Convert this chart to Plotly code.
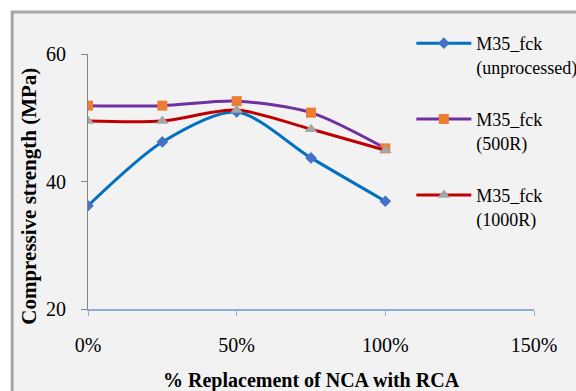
import plotly.graph_objects as go

# Replacement level of natural coarse aggregate (fraction)
replacement = [0.0, 0.25, 0.5, 0.75, 1.0]

# Compressive strength, MPa
fck_unprocessed = [36.2, 46.2, 50.9, 43.7, 36.9]
fck_500r = [51.9, 51.9, 52.6, 50.8, 45.2]
fck_1000r = [49.5, 49.5, 51.2, 48.2, 44.9]

series_names = ["M35_fck<br>(unprocessed)", "M35_fck<br>(500R)", "M35_fck<br>(1000R)"]

FONT = "Liberation Serif, Times New Roman, serif"

fig = go.Figure()

styles = [
    (fck_unprocessed, "#0070c0", "diamond", "#4472c4", 9),
    (fck_500r, "#7030a0", "square", "#ed7d31", 10),
    (fck_1000r, "#c00000", "triangle-up", "#a5a5a5", 11),
]
legend_ids = ["legend", "legend2", "legend3"]
for (vals, lc, sym, mc, ms), name, lg in zip(styles, series_names, legend_ids):
    fig.add_trace(go.Scatter(
        x=replacement, y=vals, name=name, mode="lines+markers", legend=lg,
        line=dict(color=lc, width=3, shape="spline", smoothing=0.8),
        marker=dict(symbol=sym, color=mc, size=ms),
    ))

# Chart frame behind the whole figure
fig.add_shape(type="rect", xref="paper", yref="paper",
              x0=-0.17, x1=1.12, y0=-0.40, y1=1.165,
              fillcolor="#f2f2f2", line=dict(color="#a6a6a6", width=3),
              layer="below")

legend_style = dict(x=0.725, xanchor="left", yanchor="top", valign="top",
                    bgcolor="rgba(0,0,0,0)", font=dict(family=FONT, size=18),
                    itemwidth=55)

fig.update_layout(
    width=576, height=391,
    margin=dict(l=88, r=42, t=54, b=82, autoexpand=False),
    paper_bgcolor="white", plot_bgcolor="rgba(0,0,0,0)",
    font=dict(family=FONT, size=18, color="black"),
    showlegend=True,
    legend=dict(y=1.114, **legend_style),
    legend2=dict(y=0.816, **legend_style),
    legend3=dict(y=0.518, **legend_style),
    xaxis=dict(range=[0, 1.5], dtick=0.5, tickformat=".0%",
               showgrid=False, zeroline=False, showline=True,
               linecolor="#8eaadb", linewidth=2,
               ticks="outside", ticklen=5, tickcolor="#8eaadb",
               ticklabelstandoff=12,
               tickfont=dict(family=FONT, size=20)),
    yaxis=dict(range=[20, 60], dtick=20, showgrid=False, zeroline=False,
               showline=True, linecolor="#868686", linewidth=1,
               ticks="outside", ticklen=6, tickcolor="#868686",
               ticklabelstandoff=11,
               tickfont=dict(family=FONT, size=20)),
    annotations=[
        dict(text="<b>% Replacement of NCA with RCA</b>", xref="paper", yref="paper",
             x=0.5, y=-0.28, xanchor="center", yanchor="middle", showarrow=False,
             font=dict(family=FONT, size=20)),
        dict(text="<b>Compressive strength (MPa)</b>", xref="paper", yref="paper",
             x=-0.133, y=0.443, xanchor="center", yanchor="middle", textangle=-90,
             showarrow=False, font=dict(family=FONT, size=21)),
    ],
)

fig.write_html("out.html")
